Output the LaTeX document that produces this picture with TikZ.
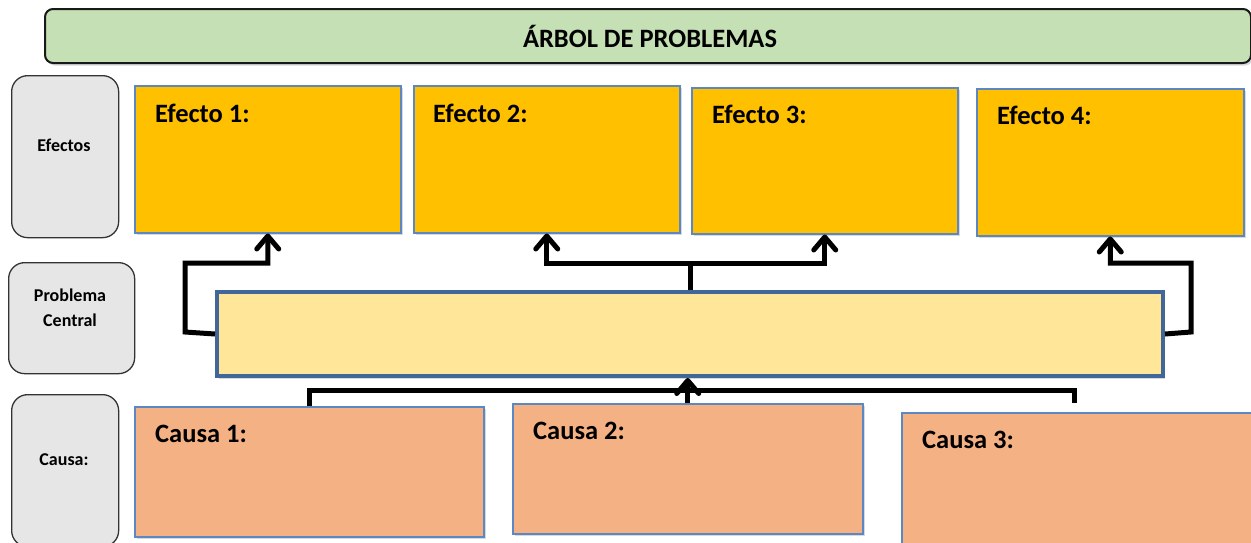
\documentclass[tikz,border=0pt]{standalone}
\usepackage{fontspec}
\setmainfont{Carlito}
\usetikzlibrary{arrows.meta,shadows}
\definecolor{titlefill}{HTML}{C5E0B4}
\definecolor{grayfill}{HTML}{E7E6E6}
\definecolor{efill}{HTML}{FFC000}
\definecolor{cfill}{HTML}{F4B183}
\definecolor{pfill}{HTML}{FFE699}
\definecolor{boxline}{HTML}{5B87C5}
\definecolor{pline}{HTML}{41679A}
\begin{document}
\begin{tikzpicture}[x=1pt,y=-1pt,
  shad/.style={drop shadow={shadow xshift=2pt,shadow yshift=-2.5pt,opacity=0.25,fill=black!60}},
  box/.style={draw=boxline,line width=1.5pt,inner sep=0pt,anchor=north west,shad},
  effbox/.style={box,fill=efill},
  cauobox/.style={box,fill=cfill},
  sidebox/.style={draw=black!80,line width=1.3pt,fill=grayfill,rounded corners=16pt,inner sep=0pt,anchor=north west},
  sidetxt/.style={font=\fontsize{18}{25}\selectfont\bfseries,align=center,inner sep=0pt},
  boxtxt/.style={font=\fontsize{26.5}{30}\selectfont\bfseries,anchor=base west,inner sep=0pt},
  conn/.style={line width=5pt,line join=miter,draw=black},
  tip/.style={-{Straight Barb[length=13pt,width=22pt,round]}}]
\useasboundingbox (0,0) rectangle (1251,542);
\clip (0,0) rectangle (1251,542);
% title
\node[draw=black!90,line width=2pt,fill=titlefill,rounded corners=8pt,inner sep=0pt,anchor=north west,
  minimum width=1206pt,minimum height=54pt,shad] (title) at (44,8) {};
\node[font=\fontsize{26.5}{30}\selectfont\bfseries,anchor=base,inner sep=0pt] (titletxt) at (650,47) {ÁRBOL DE PROBLEMAS};
% side labels
\node[sidebox,minimum width=107pt,minimum height=162pt] (sef) at (11,75) {};
\node[sidetxt,anchor=base] (sefT) at (64,151) {Efectos};
\node[sidebox,minimum width=126pt,minimum height=111pt] (spc) at (8,262) {};
\node[sidetxt,anchor=base] (spcT) at (70,326) {Problema\\Central};
\node[sidebox,minimum width=107pt,minimum height=152pt] (sca) at (11,394) {};
\node[sidetxt,anchor=base] (scaT) at (64,465) {Causa:};
% effects
\node[effbox,minimum width=266pt,minimum height=147pt] (e1) at (134,85) {};
\node[effbox,minimum width=266pt,minimum height=147pt] (e2) at (413,85) {};
\node[effbox,minimum width=266pt,minimum height=146pt] (e3) at (691,87) {};
\node[effbox,minimum width=267pt,minimum height=147pt] (e4) at (976,88) {};
\node[boxtxt] (e1T) at ([xshift=21pt,yshift=-37pt]e1.north west) {Efecto 1:};
\node[boxtxt] (e2T) at ([xshift=20pt,yshift=-37pt]e2.north west) {Efecto 2:};
\node[boxtxt] (e3T) at ([xshift=21pt,yshift=-36pt]e3.north west) {Efecto 3:};
\node[boxtxt] (e4T) at ([xshift=21pt,yshift=-36pt]e4.north west) {Efecto 4:};
% central problem
\node[draw=pline,line width=4pt,fill=pfill,inner sep=0pt,anchor=north west,
  minimum width=946pt,minimum height=84pt,shad] (cp) at (215,290) {};
% causes
\node[cauobox,minimum width=349pt,minimum height=130pt] (c1) at (134,406) {};
\node[cauobox,minimum width=350pt,minimum height=130pt] (c2) at (512,403) {};
\node[cauobox,minimum width=350pt,minimum height=132pt] (c3) at (901,412) {};
\node[boxtxt] (c1T) at ([xshift=21pt,yshift=-36pt]c1.north west) {Causa 1:};
\node[boxtxt] (c2T) at ([xshift=21pt,yshift=-36pt]c2.north west) {Causa 2:};
\node[boxtxt] (c3T) at ([xshift=21pt,yshift=-36pt]c3.north west) {Causa 3:};
% connectors
\coordinate (lc) at (185,332);
\coordinate (lt) at (185,263);
\draw[conn,tip] (cp.west) -- (lc) -- (lt) -| (e1.south);
\coordinate (jt) at (cp.north |- 0,263);
\draw[conn,tip] (cp.north) -- (jt) -| (e2.south);
\draw[conn,tip] (jt) -| (e3.south);
\coordinate (rc) at (1191,332);
\coordinate (rt) at (1191,263);
\draw[conn,tip] (cp.east) -- (rc) -- (rt) -| (e4.south);
\coordinate (bj) at (1074,390);
\coordinate (bend) at (1074,403);
\draw[conn] (c1.north) |- (bj) -- (bend);
\draw[conn,tip] (c2.north) -- (c2.north |- cp.south);
\end{tikzpicture}
\end{document}
